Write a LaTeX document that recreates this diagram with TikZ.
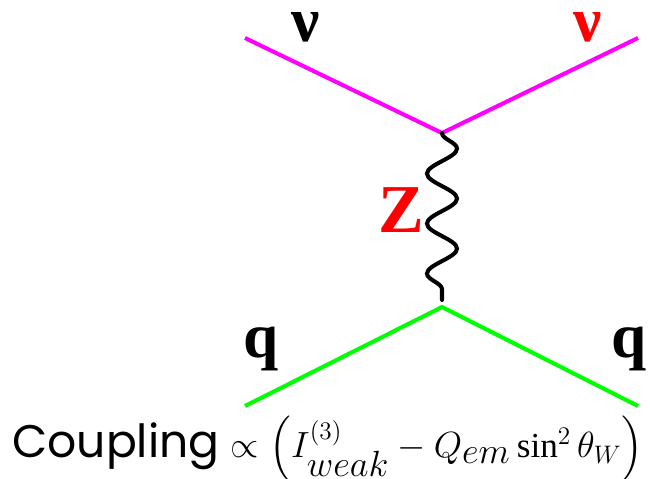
\documentclass[tikz,border=0pt]{standalone}
\usepackage{amsmath}
\usepackage{fontspec}
\setmainfont{Liberation Serif}
\newfontfamily\gothic{Poppins}
\DeclareMathSizes{20}{20}{14}{11}
\usetikzlibrary{decorations.pathmorphing}
\definecolor{nucol}{rgb}{1,0,1}
\definecolor{qcol}{rgb}{0,1,0}

\begin{document}
\begin{tikzpicture}[x=0.02cm, y=-0.02cm,
  fermion/.style={line width=2.3pt},
  boson/.style={line width=2.3pt, line cap=round, decorate,
                decoration={snake, amplitude=0.3cm, segment length=1cm}},
  plbl/.style={font=\fontsize{36}{36}\selectfont\bfseries, inner sep=0pt,
               anchor=base},
  cpl/.style={font=\fontsize{26}{26}\selectfont, inner sep=0pt,
              anchor=base west},
]
\useasboundingbox (0,0) rectangle (650,479);

%% ---- vertices and external legs
\coordinate (vtop)  at (442,133);
\coordinate (vbot)  at (442,307);
\coordinate (zend)  at (442,300);
\coordinate (nuin)  at (245,38);
\coordinate (nuout) at (638,38);
\coordinate (qin)   at (245,406);
\coordinate (qout)  at (638,406);

%% ---- lines
\draw[fermion, nucol] (nuin) -- (vtop) -- (nuout);
\draw[fermion, qcol]  (qin)  -- (vbot) -- (qout);
\draw[boson] (vtop) -- (zend);

%% ---- particle labels
\node[plbl]      (nul)  at (306,42)  {ν};
\node[plbl, red] (nur)  at (588,42)  {ν};
\node[plbl, red, font=\fontsize{39}{39}\selectfont\bfseries]
                 (zlbl) at (401,233) {Z};
\node[plbl]      (ql)   at (261,358) {q};
\node[plbl]      (qr)   at (629,358) {q};

%% ---- coupling
\node[cpl] (coupling) at (12,458)
  {{\gothic Coupling} \fontsize{20}{20}\selectfont
   $\propto \left( I^{(3)}_{\textstyle weak} - Q_{\textstyle em}\sin^2\theta_W \right)$};

\end{tikzpicture}
\end{document}
